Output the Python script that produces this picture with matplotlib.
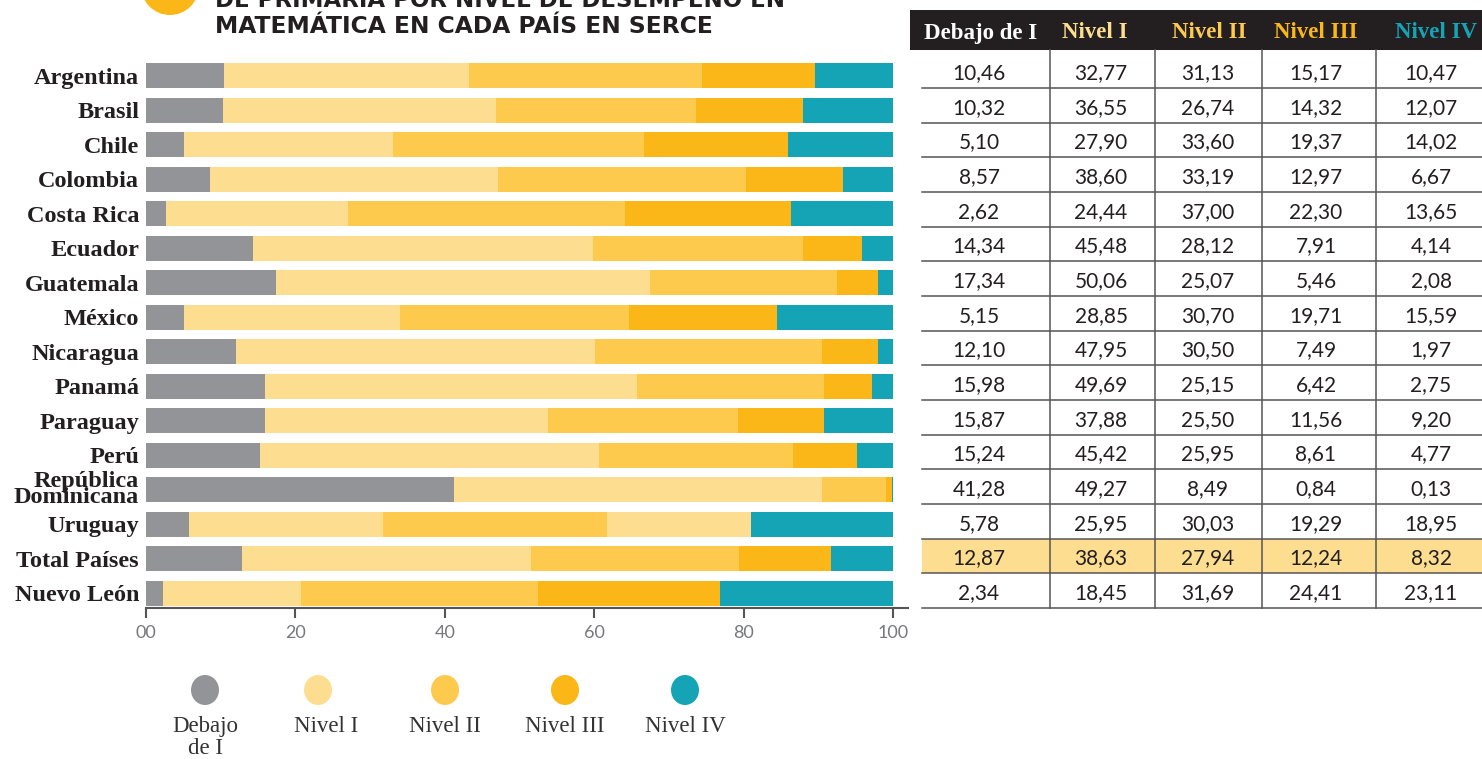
import matplotlib
matplotlib.use("Agg")
import matplotlib.pyplot as plt
from matplotlib.patches import Ellipse, Circle, Rectangle
import numpy as np

countries = ["Argentina", "Brasil", "Chile", "Colombia", "Costa Rica", "Ecuador",
             "Guatemala", "México", "Nicaragua", "Panamá", "Paraguay", "Perú",
             "República\nDominicana", "Uruguay", "Total Países", "Nuevo León"]
series = ["Debajo de I", "Nivel I", "Nivel II", "Nivel III", "Nivel IV"]
legend_labels = ["Debajo\nde I", "Nivel I", "Nivel II", "Nivel III", "Nivel IV"]
debajo = [10.46, 10.32, 5.10, 8.57, 2.62, 14.34, 17.34, 5.15, 12.10, 15.98, 15.87, 15.24, 41.28, 5.78, 12.87, 2.34]
nivel1 = [32.77, 36.55, 27.90, 38.60, 24.44, 45.48, 50.06, 28.85, 47.95, 49.69, 37.88, 45.42, 49.27, 25.95, 38.63, 18.45]
nivel2 = [31.13, 26.74, 33.60, 33.19, 37.00, 28.12, 25.07, 30.70, 30.50, 25.15, 25.50, 25.95, 8.49, 30.03, 27.94, 31.69]
nivel3 = [15.17, 14.32, 19.37, 12.97, 22.30, 7.91, 5.46, 19.71, 7.49, 6.42, 11.56, 8.61, 0.84, 19.29, 12.24, 24.41]
nivel4 = [10.47, 12.07, 14.02, 6.67, 13.65, 4.14, 2.08, 15.59, 1.97, 2.75, 9.20, 4.77, 0.13, 18.95, 8.32, 23.11]
xticks = [0, 20, 40, 60, 80, 100]
xtick_labels = ["00", "20", "40", "60", "80", "100"]
title_top = "DE PRIMARIA POR NIVEL DE DESEMPEÑO EN"
title_bottom = "MATEMÁTICA EN CADA PAÍS EN SERCE"

colors = ["#939498", "#FDDE90", "#FDCA4E", "#FBB618", "#14A4B6"]
header_colors = ["#FFFFFF", "#FDDE90", "#FDCA4E", "#FBB618", "#14A4B6"]
values = [debajo, nivel1, nivel2, nivel3, nivel4]

W, H = 1482, 759
fig = plt.figure(figsize=(W / 100, H / 100), dpi=100)

# ---- bar chart axes (pixel layout) ----
ax_left, ax_right_px = 146, 146 + 762
ax_top, ax_bottom = 56, 608
ax = fig.add_axes([ax_left / W, (H - ax_bottom) / H, (ax_right_px - ax_left) / W, (ax_bottom - ax_top) / H])
n = len(countries)
y = np.arange(n)
left = np.zeros(n)
for si, vals in enumerate(values):
    vals = np.array(vals)
    cols = [colors[si]] * n
    if si == 3:
        cols[countries.index("Uruguay")] = colors[1]
    ax.barh(y, vals, left=left, height=0.725, color=cols, edgecolor="none")
    left += vals

ax.set_xlim(0, 102)
ax.set_ylim(15.435, -0.58)
ax.set_yticks(y)
ax.set_yticklabels(countries, family="Liberation Serif", weight="bold", fontsize=17.5, color="#231F20")
for lbl in ax.get_yticklabels():
    if "\n" in lbl.get_text():
        lbl.set_linespacing(0.68)
ax.tick_params(axis="y", length=0, pad=5)
ax.set_xticks(xticks)
ax.set_xticklabels(xtick_labels, family="Lato", fontsize=13, color="#77787B")
ax.tick_params(axis="x", direction="out", length=7, width=1.5, color="#555555", pad=5)
for s in ["top", "right", "left"]:
    ax.spines[s].set_visible(False)
ax.spines["bottom"].set_color("#555555")
ax.spines["bottom"].set_linewidth(1.5)

# ---- overlay in pixel coords ----
ov = fig.add_axes([0, 0, 1, 1])
ov.set_xlim(0, W)
ov.set_ylim(H, 0)
ov.axis("off")
ov.patch.set_alpha(0)

# title (top line is cut by the upper edge, as in the reference)
ov.add_patch(Circle((170, -14), 29, color="#FBB618", lw=0))
ov.text(215, 7, title_top, family="DejaVu Sans", weight="bold", fontsize=16.5,
        color="#231F20", va="baseline", ha="left")
ov.text(215, 33, title_bottom, family="DejaVu Sans", weight="bold", fontsize=16.8,
        color="#231F20", va="baseline", ha="left")

# table
tbl_left, tbl_lines_left = 910, 922
header_top, header_bot = 10, 50
col_bounds = [922, 1050, 1155, 1262, 1376, 1482]
col_centers = [979, 1101, 1208, 1316, 1431]
header_centers = [981, 1095, 1209, 1316, 1436]
ov.add_patch(Rectangle((tbl_left, header_top), W - tbl_left, header_bot - header_top,
                       color="#231F20", lw=0))
for j, name in enumerate(series):
    ov.text(header_centers[j], 33, name, family="Liberation Serif", weight="bold",
            fontsize=16.5, color=header_colors[j], ha="center", va="center")

first_sep = 88
pitch = (608 - 88) / 15
hi = countries.index("Total Países")
ov.add_patch(Rectangle((tbl_lines_left, first_sep + pitch * (hi - 1)), W - tbl_lines_left, pitch,
                       color="#FDDE90", lw=0, zorder=0))
for k in range(16):
    yy = first_sep + pitch * k
    ov.plot([tbl_lines_left, W], [yy, yy], color="#555555", lw=1.1, zorder=2)
for xb in col_bounds[1:-1]:
    ov.plot([xb, xb], [header_bot, 608], color="#555555", lw=1.1, zorder=2)
for i in range(n):
    yc = 73 + pitch * i
    for j in range(5):
        txt = f"{values[j][i]:.2f}".replace(".", ",")
        ov.text(col_centers[j], yc, txt, family="Lato", fontsize=15, color="#231F20",
                ha="center", va="center", zorder=3)

# legend
leg_x = [205, 318, 445, 565, 685]
for j in range(5):
    ov.add_patch(Ellipse((leg_x[j], 690), 28, 30, color=colors[j], lw=0))
    lx = leg_x[j] if j != 1 else 326
    ov.text(lx, 716, legend_labels[j], family="Liberation Serif", fontsize=16.5,
            color="#333333", ha="center", va="top", linespacing=1.05)

fig.savefig("out.png", dpi=100)
